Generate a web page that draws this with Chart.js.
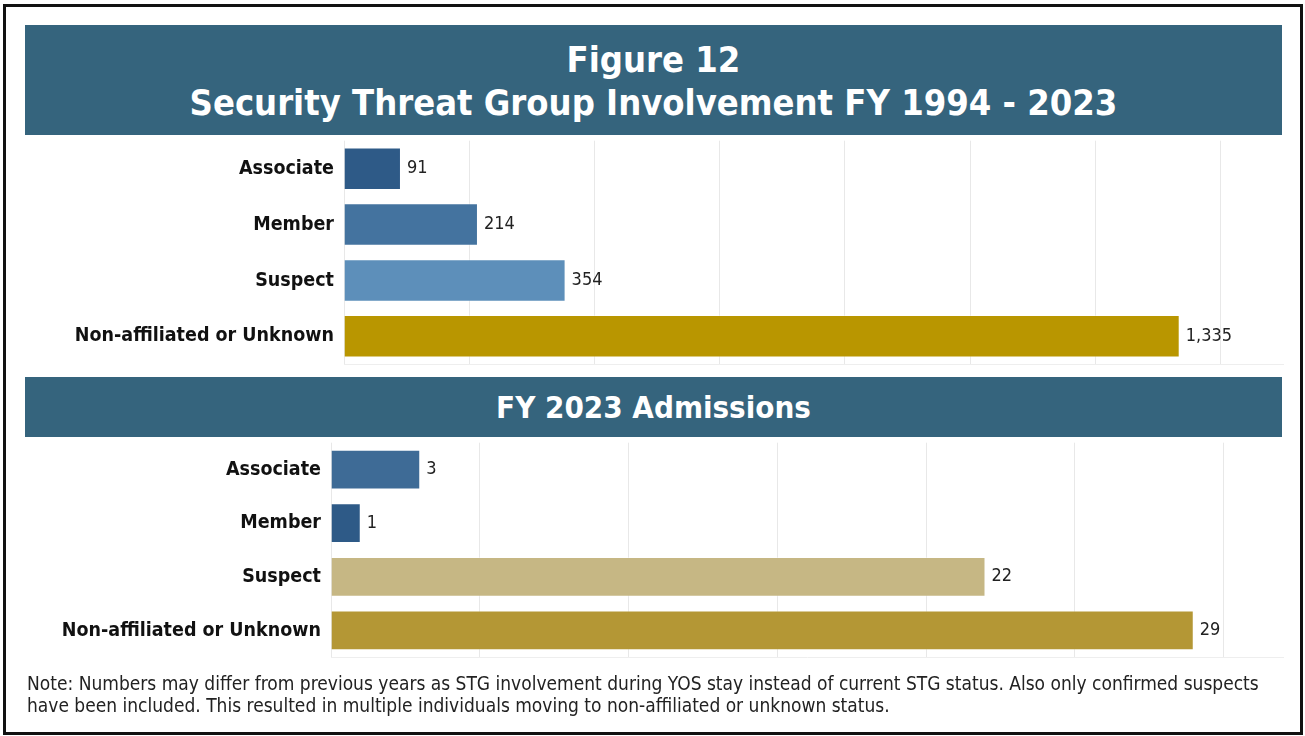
<!DOCTYPE html>
<html>
<head>
<meta charset="utf-8">
<script src="https://cdn.jsdelivr.net/npm/chart.js@4.4.1/dist/chart.umd.min.js"></script>
<style>
  body { margin: 0; background: #fff; width: 1305px; height: 736px; position: relative; overflow: hidden;
         font-family: "DejaVu Sans Condensed", "DejaVu Sans", sans-serif; }
  #frame { position: absolute; left: 3px; top: 4px; width: 1294px; height: 725px; border: 3px solid #111; }
  .banner { position: absolute; left: 25px; width: 1257px; background: #35647d; color: #fff;
            text-align: center; font-weight: bold; box-sizing: border-box; }
  #banner1 { top: 25px; height: 110px; font-size: 36px; line-height: 43px; padding-top: 13px; }
  #banner2 { top: 377px; height: 60px; font-size: 31px; line-height: 60px; }
  .chartbox { position: absolute; left: 0; width: 1305px; }
  #box1 { top: 119px; height: 267px; }
  #box2 { top: 421px; height: 258px; }
  #note { position: absolute; left: 27px; top: 672px; font-size: 19px; line-height: 22px; color: #222; white-space: nowrap; }
</style>
</head>
<body>
<div id="frame"></div>
<div class="banner" id="banner1">Figure 12<br>Security Threat Group Involvement FY 1994 - 2023</div>
<div class="chartbox" id="box1"><canvas id="chart-total"></canvas></div>
<div class="banner" id="banner2">FY 2023 Admissions</div>
<div class="chartbox" id="box2"><canvas id="chart-admissions"></canvas></div>
<div id="note">Note: Numbers may differ from previous years as STG involvement during YOS stay instead of current STG status. Also only confirmed suspects<br>have been included. This resulted in multiple individuals moving to non-affiliated or unknown status.</div>

<script>
const categories = ['Associate', 'Member', 'Suspect', 'Non-affiliated or Unknown'];

// FY 1994 - 2023
const totalValues = [91, 214, 354, 1335];
const totalColors = ['#2e5a87', '#44739f', '#5d8fba', '#b99600'];

// FY 2023 admissions
const admissionValues = [3, 1, 22, 29];
const admissionColors = ['#3e6b96', '#2e5a87', '#c6b784', '#b49735'];

const fontFamily = '"DejaVu Sans Condensed", "DejaVu Sans", sans-serif';

const valueLabels = {
  id: 'valueLabels',
  afterDatasetsDraw(chart) {
    const ctx = chart.ctx;
    const values = chart.data.datasets[0].data;
    ctx.save();
    ctx.font = '18px ' + fontFamily;
    ctx.fillStyle = '#222';
    ctx.textBaseline = 'middle';
    chart.getDatasetMeta(0).data.forEach((bar, i) => {
      ctx.fillText(values[i].toLocaleString('en-US'), bar.x + 6, bar.y);
    });
    ctx.restore();
  }
};

function makeChart(id, values, colors, axisMax, step, lastGrid, axisWidth, barPct) {
  const data = {
    labels: categories,
    datasets: [{
      data: values,
      backgroundColor: colors,
      borderColor: 'rgba(255,255,255,0.35)',
      borderWidth: 1,
      categoryPercentage: 1,
      barPercentage: barPct
    }]
  };

  return new Chart(document.getElementById(id), {
    type: 'bar',
    data: data,
    plugins: [valueLabels],
    options: {
      indexAxis: 'y',
      responsive: true,
      maintainAspectRatio: false,
      animation: false,
      layout: { padding: { top: 5, bottom: 5, left: 0, right: 22 } },
      plugins: {
        legend: { display: false },
        title: { display: false },
        tooltip: { enabled: false }
      },
      scales: {
        x: {
          min: 0,
          max: axisMax,
          ticks: { display: false, stepSize: step },
          afterBuildTicks: axis => { axis.ticks = axis.ticks.filter(t => t.value <= lastGrid); },
          afterFit: scale => { scale.height = 0; },
          grid: { color: '#e8e8e8', drawTicks: false },
          border: { color: '#eeeeee' }
        },
        y: {
          afterFit: scale => { scale.width = axisWidth; },
          ticks: { color: '#111', padding: 10, font: { family: fontFamily, size: 19.5, weight: 'bold' } },
          grid: { display: false, drawTicks: false },
          border: { display: false }
        }
      }
    }
  });
}

makeChart('chart-total', totalValues, totalColors, 1500, 200, 1400, 344, 0.76);
makeChart('chart-admissions', admissionValues, admissionColors, 32, 5, 30, 331, 0.74);
</script>
</body>
</html>
